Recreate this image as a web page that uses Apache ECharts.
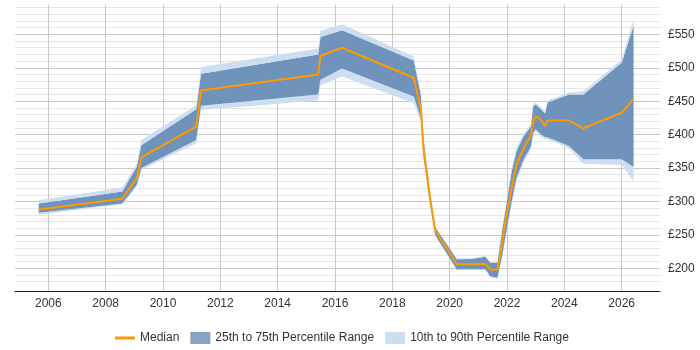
<!DOCTYPE html>
<html>
<head>
<meta charset="utf-8">
<style>
  html, body { margin: 0; padding: 0; background: #fff; }
  #chart { width: 700px; height: 350px; }
</style>
<script src="https://cdn.jsdelivr.net/npm/echarts@6/dist/echarts.min.js"></script>
</head>
<body>
<div id="chart"></div>
<script>
// data points (year-month) and salary percentiles
const dates = ['2005-09', '2008-08', '2009-02', '2009-04', '2011-03', '2011-05', '2015-06', '2015-07', '2016-04',
  '2018-10', '2019-01', '2019-02', '2019-05', '2019-07', '2020-04', '2020-10', '2021-04', '2021-06', '2021-09',
  '2021-11', '2022-01', '2022-03', '2022-05', '2022-08', '2022-11', '2022-12', '2023-01', '2023-03', '2023-05',
  '2023-06', '2024-03', '2024-09', '2026-01', '2026-06'];
const p10 = [280, 296, 322, 347, 387, 437, 451, 474, 487, 447, 418, 364, 291, 248, 197, 197.5, 197, 186.5, 184.5,
  216, 258, 295, 330, 358, 378, 400, 405, 398, 393, 393, 379.5, 356, 355, 330];
const p25 = [283, 297, 325, 350, 392, 443, 460, 482, 499, 457, 425, 368, 294, 250, 198.5, 199, 198.5, 188, 186,
  220, 262, 300, 335, 363, 382, 403, 408, 401, 396, 396, 383, 363, 363, 352];
const median = [288, 304, 335, 366, 412, 466, 490, 518, 530, 485, 437, 380, 301, 257, 206, 206.5, 207, 198, 198,
  240, 285, 320, 355, 380, 399, 420, 427, 423, 413, 421, 421, 409.5, 433, 453];
const p75 = [297, 315, 352, 384, 438, 491, 520, 546, 556, 511, 458, 395, 309, 262, 213.5, 214, 217.5, 208.5, 208.5,
  258, 302, 345, 375, 398, 412, 443, 445, 439, 432, 448, 460, 460, 508, 563];
const p90 = [302, 321, 356, 392, 444, 501, 529, 555, 565, 517, 462, 398, 312, 263, 215, 215, 219, 210, 210,
  262, 306, 350, 380, 402, 415, 446, 448, 442, 435, 451, 463, 465, 512, 573];

const ORANGE = '#ff9900';
const DARK = '#6f93bb';
const LIGHT = '#cddef0';
const GRID_MAJOR = '#c8c8c8';
const GRID_MINOR = '#e6e6e6';

function toTime(s) {
  const parts = s.split('-');
  return Date.UTC(+parts[0], +parts[1] - 1, 1);
}
function yearToTime(y) {
  const yr = Math.floor(y);
  const start = Date.UTC(yr, 0, 1);
  return start + (y - yr) * (Date.UTC(yr + 1, 0, 1) - start);
}
function pairs(values) {
  return dates.map((d, i) => [toTime(d), values[i]]);
}
function diff(a, b) {
  return a.map((v, i) => v - b[i]);
}

const chart = echarts.init(document.getElementById('chart'));
chart.setOption({
  animation: false,
  textStyle: { fontFamily: 'Liberation Sans, Arial, sans-serif' },
  grid: [
    // data grid, y from 180 to 590
    { left: 15, right: 40, top: 7.6, bottom: 68.3 },
    // major horizontal lines + labels, 200..550
    { left: 15, right: 40, top: 34.34, bottom: 81.67 },
    // vertical year lines + labels, 2006..2026
    { left: 48.3, right: 78.3, top: 5, bottom: 58 }
  ],
  xAxis: [
    {
      gridIndex: 0, type: 'time',
      min: yearToTime(2004.84), max: yearToTime(2027.336),
      offset: 10,
      axisLine: { show: true, lineStyle: { color: '#222', width: 1 } },
      axisTick: { show: false }, axisLabel: { show: false }, splitLine: { show: false }
    },
    {
      gridIndex: 1, type: 'value', min: 0, max: 1,
      axisLine: { show: false }, axisTick: { show: false }, axisLabel: { show: false }, splitLine: { show: false }
    },
    {
      // ticks left at defaults; they take the (transparent) axis line colour
      gridIndex: 2, type: 'value', min: 2006, max: 2026, interval: 2,
      axisLine: { show: false, lineStyle: { color: 'rgba(0,0,0,0)' } },
      axisLabel: { color: '#333', fontSize: 12, margin: 6, formatter: v => String(v) },
      splitLine: { show: true, lineStyle: { color: GRID_MAJOR, width: 1 } }
    }
  ],
  yAxis: [
    {
      gridIndex: 0, type: 'value', min: 180, max: 590, interval: 10,
      axisLine: { show: false }, axisTick: { show: false }, axisLabel: { show: false },
      splitLine: { show: true, lineStyle: { color: GRID_MINOR } }
    },
    {
      gridIndex: 1, type: 'value', position: 'right', min: 200, max: 550, interval: 50,
      axisLine: { show: false, lineStyle: { color: 'rgba(0,0,0,0)' } },
      axisLabel: { color: '#333', fontSize: 12, margin: 8, formatter: v => '£' + v },
      splitLine: { show: true, lineStyle: { color: GRID_MAJOR, width: 1 } }
    },
    {
      gridIndex: 2, type: 'value', min: 0, max: 1,
      axisLine: { show: false }, axisTick: { show: false }, axisLabel: { show: false }, splitLine: { show: false }
    }
  ],
  legend: {
    left: 110, top: 327,
    itemWidth: 20, itemHeight: 12, itemGap: 11,
    textStyle: { color: '#333', fontSize: 12 },
    selectedMode: false,
    data: [
      { name: 'Median', icon: 'path://M0,0H20V3H0Z', itemStyle: { color: ORANGE } },
      { name: '25th to 75th Percentile Range', icon: 'rect', itemStyle: { color: '#87a4c5' } },
      { name: '10th to 90th Percentile Range', icon: 'rect', itemStyle: { color: LIGHT } }
    ]
  },
  series: [
    {
      name: 'base', type: 'line', stack: 'band', data: pairs(p10), z: 10,
      symbol: 'none', silent: true, lineStyle: { opacity: 0 }
    },
    {
      name: '10th to 90th Percentile Range', type: 'line', stack: 'band', data: pairs(diff(p25, p10)), z: 10,
      symbol: 'none', silent: true, color: LIGHT,
      lineStyle: { width: 0, opacity: 0 }, areaStyle: { color: LIGHT, opacity: 1 }
    },
    {
      name: '25th to 75th Percentile Range', type: 'line', stack: 'band', data: pairs(diff(p75, p25)), z: 10,
      symbol: 'none', silent: true, color: DARK,
      lineStyle: { width: 0, opacity: 0 }, areaStyle: { color: DARK, opacity: 1 }
    },
    {
      name: '10th to 90th Percentile Range', type: 'line', stack: 'band', data: pairs(diff(p90, p75)), z: 10,
      symbol: 'none', silent: true, color: LIGHT,
      lineStyle: { width: 0, opacity: 0 }, areaStyle: { color: LIGHT, opacity: 1 }
    },
    {
      name: 'Median', type: 'line', data: pairs(median), z: 11,
      symbol: 'none', color: ORANGE,
      lineStyle: { color: ORANGE, width: 2 }
    }
  ]
});
</script>
</body>
</html>
